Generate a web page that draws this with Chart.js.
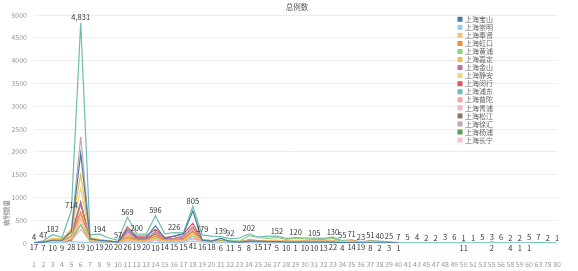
<!DOCTYPE html>
<html>
<head>
<meta charset="utf-8">
<script src="https://cdn.jsdelivr.net/npm/chart.js@4.4.1/dist/chart.umd.min.js"></script>
<style>
    html, body { margin: 0; padding: 0; background: #fff; }
</style>
</head>
<body>
<canvas id="myChart" width="578" height="271"></canvas>
<script>
const FONT = "'Noto Sans CJK SC', 'Noto Sans', sans-serif";

const days = ["1","2","3","4","5","6","7","8","9","10","11","12","13","14","15","16","17","18","19","20",
    "21","22","23","24","25","26","27","28","29","30","31","32","33","34","35","36","37","38","39","40",
    "41","43","45","47","48","49","50","51","53","55","56","58","59","60","63","78","80"];

const districts = ["上海宝山","上海崇明","上海奉贤","上海虹口","上海黄浦","上海嘉定","上海金山","上海静安",
    "上海闵行","上海浦东","上海普陀","上海青浦","上海松江","上海徐汇","上海杨浦","上海长宁"];

const colors = ["#4e79a7","#a0cbe8","#ffbe7d","#f28e2b","#8cd17d","#e8c14d","#b07aa1","#e9d68a",
    "#e15759","#6cbcae","#ff9d9a","#f5b3c4","#8b7463","#bfa9b0","#59a14f","#fabfd2"];

// values per district, same order as days (missing days simply left off the end)
const baoshan  = [2,20,60,60,250,1960,90,60,40,20,300,120,110,380,100,150,200,700,60,40,100,30,20,40,40,30,30,20,20,20,20,20,20,10,10,5,5,5,3,2];
const chongming = [17,7,10,9,28,19,10,19,20,20,26,19,20,10,14,15,15,41,16,18,6,11,5,8,15,17,5,10,1,10,10,13,22,4,14,19,8,2,3,1,
    null,null,null,null,null,null,11,null,null,2,null,4,1,1,null,null,null];
const fengxian = [3,10,40,30,100,560,60,30,20,10,80,40,40,90,40,40,60,200,40,30,30,30,20,60,40,40,50,30,40,40,40,40,40,30,40,20,30,20,10,5];
const hongkou  = [2,15,50,40,150,680,80,40,30,15,120,60,60,150,60,60,80,250,50,40,40,30,20,50,40,40,40,30,30,30,30,30,30,20,50,20,40,30,15,4];
const huangpu  = [1,10,40,30,100,400,50,30,20,15,90,50,50,100,60,50,60,150,80,60,60,50,40,160,120,100,120,80,100,90,80,80,100,30,20,10,10,5,5,2];
const jiading  = [1,20,100,90,300,1500,120,80,50,20,150,60,60,150,60,60,80,250,60,40,40,30,20,40,30,30,30,20,20,20,20,20,20,10,10,5,10,5,3,2];
const jinshan  = [1,5,20,20,60,880,60,30,20,10,250,100,90,250,90,100,150,350,40,30,30,20,10,20,20,20,20,10,10,10,10,10,10,5,5,3,3,2,1,1];
const jingan   = [1,15,80,70,200,1200,100,60,40,15,120,60,60,120,50,60,80,200,50,40,40,30,20,60,50,50,60,40,50,40,40,40,50,20,20,10,10,5,3,2];
const minhang  = [2,20,60,60,250,850,100,60,40,20,350,150,150,300,120,150,200,430,60,50,50,40,30,60,50,50,50,40,40,40,40,40,40,20,20,10,10,5,3,2];
const pudong   = [4,47,182,120,714,4831,180,194,110,57,569,200,190,596,200,226,220,805,179,150,139,92,110,202,130,151,152,100,120,110,105,100,130,55,71,23,51,40,25,7,
    5,4,2,2,3,6,1,1,5,3,6,2,2,5,7,2,1];
const putuo    = [1,10,30,30,100,650,60,40,30,15,200,100,100,220,80,90,120,300,50,40,40,30,20,40,30,30,30,20,20,20,20,20,20,10,10,5,5,3,2,1];
const qingpu   = [1,5,20,20,50,300,40,20,20,10,60,30,30,60,30,30,40,100,30,20,20,20,10,30,20,20,20,20,20,20,20,20,20,10,10,5,5,3,2,1];
const songjiang = [1,10,40,40,150,900,80,40,30,15,150,80,80,200,70,80,100,250,40,30,30,30,20,40,30,30,30,20,20,20,20,20,20,10,10,5,5,3,2,1];
const xuhui    = [2,20,60,60,300,2330,100,60,40,20,200,100,100,200,80,100,130,300,50,40,40,30,20,40,30,30,30,20,20,20,20,20,20,10,10,5,5,3,2,1];
const yangpu   = [1,5,20,20,60,400,40,20,20,10,60,30,30,60,30,30,40,100,40,30,30,30,20,70,50,50,60,40,50,50,40,40,50,20,10,5,5,3,2,1];
const changning = [1,5,20,20,80,500,50,30,20,10,100,50,50,100,40,50,60,150,40,30,30,20,20,30,30,30,30,20,20,20,20,20,20,10,10,5,5,3,2,1];

const series = [baoshan, chongming, fengxian, hongkou, huangpu, jiading, jinshan, jingan,
    minhang, pudong, putuo, qingpu, songjiang, xuhui, yangpu, changning];

const topSeries = 9;     // labels above (浦东)
const bottomSeries = 1;  // labels below (崇明)

const chartTitle = "总例数";
const yTitle = "病例数量";

function lonelyRadius(c) {
    const d = c.dataset.data;
    const i = c.dataIndex;
    const prev = i > 0 ? d[i - 1] : null;
    const next = i < d.length - 1 ? d[i + 1] : null;
    return (prev == null && next == null) ? 1.5 : 0;
}

const datasets = series.map((vals, k) => ({
    label: districts[k],
    data: vals,
    borderColor: colors[k],
    backgroundColor: colors[k],
    borderWidth: 1.2,
    tension: 0,
    pointRadius: lonelyRadius,
    pointHoverRadius: 0,
    spanGaps: false,
}));

// value labels: top row hides overlapping ones (bigger value wins), bottom row always shown
const valueLabels = {
    id: "valueLabels",
    afterDatasetsDraw(chart) {
        const c = chart.ctx;
        c.save();
        c.font = "7.5px " + FONT;
        c.fillStyle = "#333";
        c.textAlign = "center";

        const topMeta = chart.getDatasetMeta(topSeries);
        const topData = chart.data.datasets[topSeries].data;
        const items = [];
        topMeta.data.forEach((pt, i) => {
            const v = topData[i];
            if (v == null) return;
            const text = v.toLocaleString("en-US");
            const w = c.measureText(text).width;
            items.push({ v, text, x: pt.x, y: pt.y, l: pt.x - w / 2 + 1, r: pt.x + w / 2 - 1, t: pt.y - 8, b: pt.y - 2 });
        });
        items.sort((a, b) => b.v - a.v);
        const shown = [];
        items.forEach(it => {
            const hit = shown.some(s => it.l < s.r && it.r > s.l && it.t < s.b && it.b > s.t);
            if (!hit) shown.push(it);
        });
        c.textBaseline = "bottom";
        shown.forEach(it => c.fillText(it.text, it.x, it.y - 1.5));

        const botMeta = chart.getDatasetMeta(bottomSeries);
        const botData = chart.data.datasets[bottomSeries].data;
        c.textBaseline = "top";
        botMeta.data.forEach((pt, i) => {
            const v = botData[i];
            if (v == null) return;
            c.fillText(v.toLocaleString("en-US"), pt.x, pt.y + 1.5);
        });
        c.restore();
    }
};

const sideLegend = {
    id: "sideLegend",
    afterDraw(chart) {
        const c = chart.ctx;
        c.save();
        c.font = "7px " + FONT;
        c.textBaseline = "middle";
        c.textAlign = "left";
        chart.data.datasets.forEach((ds, k) => {
            const y = 19.3 + k * 8.05;
            c.fillStyle = ds.borderColor;
            c.fillRect(457.5, y - 2.5, 5, 5);
            c.fillStyle = "#666";
            c.fillText(ds.label, 465, y);
        });
        // chart title
        c.textAlign = "center";
        c.font = "7.5px " + FONT;
        c.fillStyle = "#555";
        c.fillText(chartTitle, 297, 7.5);
        // y axis title
        c.translate(7, 213);
        c.rotate(-Math.PI / 2);
        c.font = "6.5px " + FONT;
        c.fillStyle = "#777";
        c.fillText(yTitle, 0, 0);
        c.restore();
    }
};

const ctx = document.getElementById("myChart");

const myChart = new Chart(ctx, {
    type: "line",
    data: { labels: days, datasets: datasets },
    options: {
        responsive: false,
        animation: false,
        devicePixelRatio: 1,
        layout: { padding: { top: 15, right: 15, left: 0, bottom: 0 } },
        plugins: {
            legend: { display: false },
            tooltip: { enabled: false },
        },
        scales: {
            x: {
                grid: { display: false, drawTicks: false },
                border: { display: false },
                ticks: {
                    autoSkip: false,
                    maxRotation: 0,
                    minRotation: 0,
                    padding: 17,
                    color: "#999",
                    font: { size: 7, family: FONT },
                },
                afterFit(scale) { scale.height = 28; },
            },
            y: {
                min: 0,
                max: 5000,
                grid: { color: "#eeeeee", drawTicks: false },
                border: { display: false },
                ticks: {
                    stepSize: 500,
                    padding: 7,
                    color: "#999",
                    font: { size: 7, family: FONT },
                    callback: v => String(v),
                },
                afterFit(scale) { scale.width = 34; },
            },
        },
    },
    plugins: [valueLabels, sideLegend],
});
</script>
</body>
</html>
